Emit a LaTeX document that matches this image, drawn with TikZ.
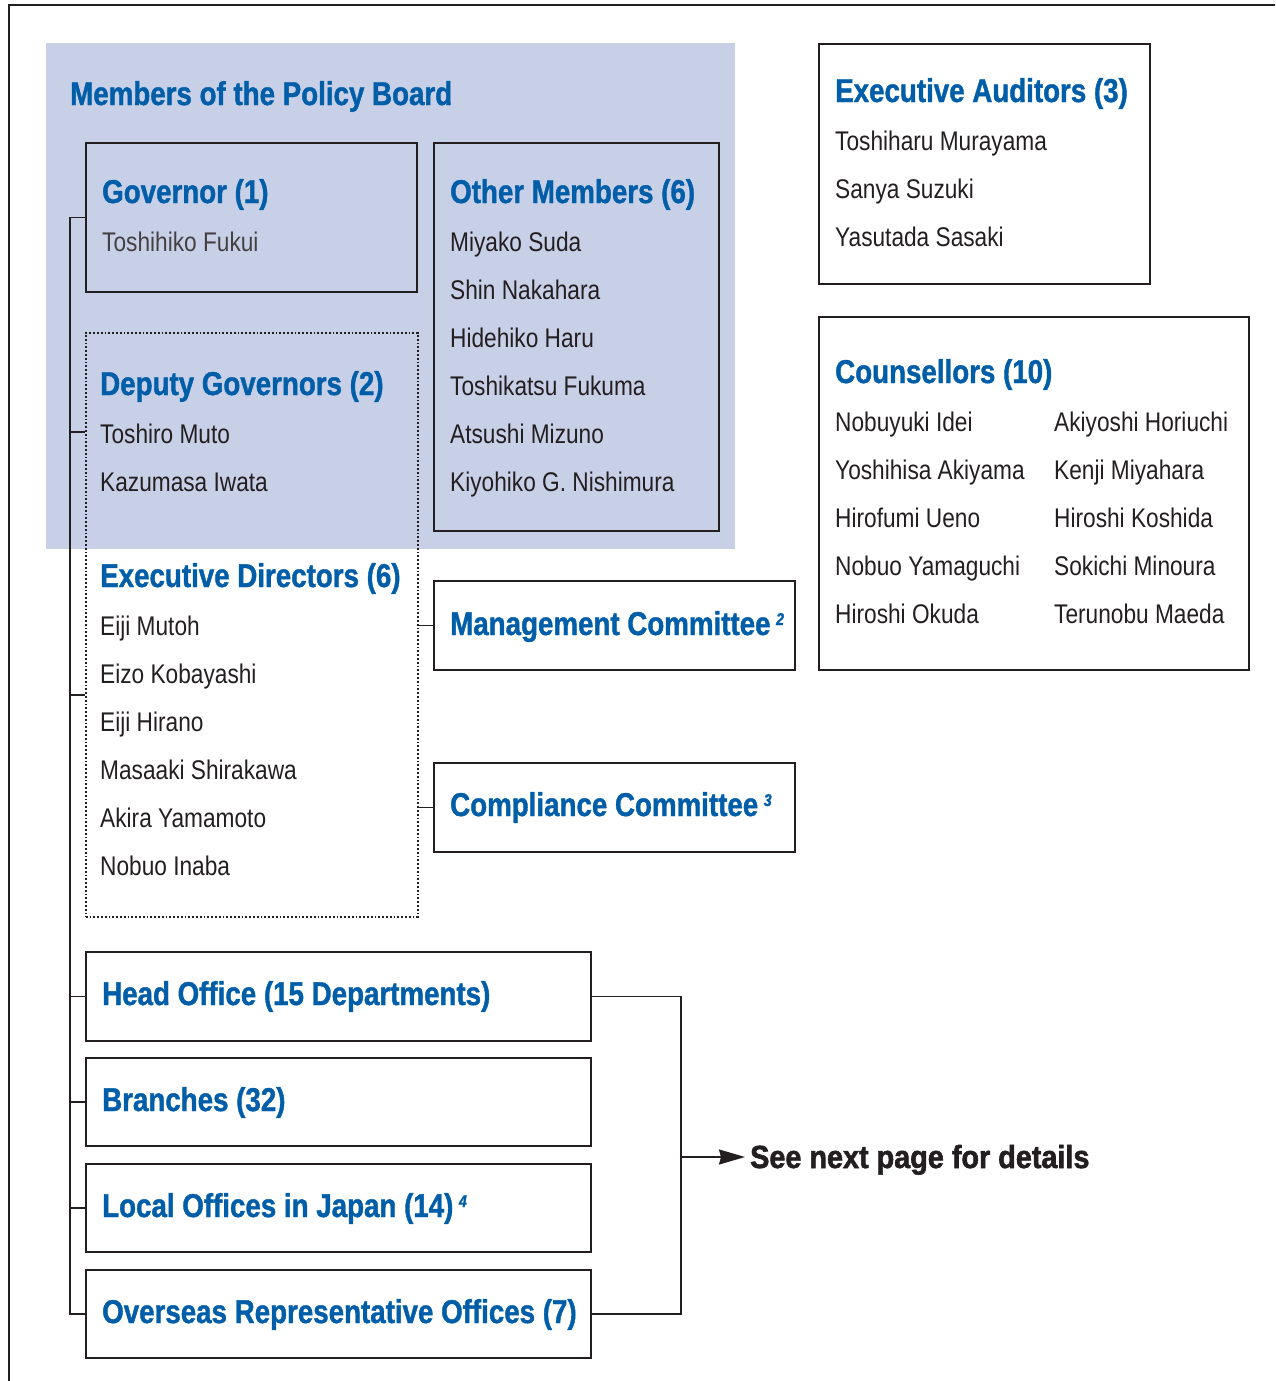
\documentclass[tikz,border=0pt]{standalone}
\usepackage{fontspec}
\setmainfont{Liberation Sans}[FakeStretch=0.84,BoldFeatures={FakeBold=1.2},BoldItalicFeatures={FakeBold=1.2}]
\newfontfamily\seefont{Liberation Sans Bold}[FakeStretch=0.9,FakeBold=1.8]
\usepackage{xcolor}
\usetikzlibrary{arrows.meta}
\definecolor{bojblue}{RGB}{0,94,168}
\definecolor{bojshade}{RGB}{200,208,232}
\definecolor{bojink}{RGB}{35,31,32}
\newcommand{\fnmark}[1]{\,\raisebox{10pt}{\fontsize{17}{17}\selectfont\itshape #1}}

\begin{document}
\begin{tikzpicture}[x=1pt,y=-1pt,
    box/.style={draw=bojink,line width=1.8pt,anchor=north west,inner sep=0pt},
    head/.style={anchor=base west,inner sep=0pt,text=bojblue,font=\bfseries\fontsize{33}{36}\selectfont},
    person/.style={anchor=base west,inner sep=0pt,text=bojink,font=\fontsize{27}{30}\selectfont},
    link/.style={draw=bojink,line width=1.8pt}]
      \useasboundingbox (0,0) rectangle (1275,1381);
      \fill[bojshade] (46,43) rectangle (735,549);
      \draw[link] (9,1381) -- (9,5) -- (1275,5);

      \node[box,minimum width=331pt,minimum height=149pt] (gov) at (85,142) {};
      \node[box,minimum width=285pt,minimum height=388pt] (oth) at (433,142) {};
      \node[box,dotted,line width=1.5pt,minimum width=332pt,minimum height=584pt] (dir) at (85,332) {};
      \node[box,minimum width=361pt,minimum height=89pt] (mgt) at (433,580) {};
      \node[box,minimum width=361pt,minimum height=89pt] (cmp) at (433,762) {};
      \node[box,minimum width=331pt,minimum height=240pt] (aud) at (818,43) {};
      \node[box,minimum width=430pt,minimum height=353pt] (cns) at (818,316) {};
      \node[box,minimum width=505pt,minimum height=89pt] (hqo) at (85,951) {};
      \node[box,minimum width=505pt,minimum height=88pt] (brn) at (85,1057) {};
      \node[box,minimum width=505pt,minimum height=88pt] (loc) at (85,1163) {};
      \node[box,minimum width=505pt,minimum height=88pt] (ovs) at (85,1269) {};

      \node[head] (board) at (70,105) {Members of the Policy Board};

      \node[head] (govhead) at (102,203) {Governor (1)};
      \node[person,text=bojink!85] (gov1) at (102,251) {Toshihiko Fukui};

      \node[head] (othhead) at (450,203) {Other Members (6)};
      \node[person] (oth1) at (450,251) {Miyako Suda};
      \node[person] (oth2) at (450,299) {Shin Nakahara};
      \node[person] (oth3) at (450,347) {Hidehiko Haru};
      \node[person] (oth4) at (450,395) {Toshikatsu Fukuma};
      \node[person] (oth5) at (450,443) {Atsushi Mizuno};
      \node[person] (oth6) at (450,491) {Kiyohiko G. Nishimura};

      \node[head] (dephead) at (100,395) {Deputy Governors (2)};
      \node[person] (dep1) at (100,443) {Toshiro Muto};
      \node[person] (dep2) at (100,491) {Kazumasa Iwata};

      \node[head] (exehead) at (100,587) {Executive Directors (6)};
      \node[person] (exe1) at (100,635) {Eiji Mutoh};
      \node[person] (exe2) at (100,683) {Eizo Kobayashi};
      \node[person] (exe3) at (100,731) {Eiji Hirano};
      \node[person] (exe4) at (100,779) {Masaaki Shirakawa};
      \node[person] (exe5) at (100,827) {Akira Yamamoto};
      \node[person] (exe6) at (100,875) {Nobuo Inaba};

      \node[head] (mgthead) at (450,635) {Management Committee\fnmark{2}};
      \node[head] (cmphead) at (450,816) {Compliance Committee\fnmark{3}};

      \node[head] (audhead) at (835,102) {Executive Auditors (3)};
      \node[person] (aud1) at (835,150) {Toshiharu Murayama};
      \node[person] (aud2) at (835,198) {Sanya Suzuki};
      \node[person] (aud3) at (835,246) {Yasutada Sasaki};

      \node[head] (cnshead) at (835,383) {Counsellors (10)};
      \node[person] (cns1) at (835,431) {Nobuyuki Idei};
      \node[person] (cns2) at (835,479) {Yoshihisa Akiyama};
      \node[person] (cns3) at (835,527) {Hirofumi Ueno};
      \node[person] (cns4) at (835,575) {Nobuo Yamaguchi};
      \node[person] (cns5) at (835,623) {Hiroshi Okuda};
      \node[person] (cns6) at (1054,431) {Akiyoshi Horiuchi};
      \node[person] (cns7) at (1054,479) {Kenji Miyahara};
      \node[person] (cns8) at (1054,527) {Hiroshi Koshida};
      \node[person] (cns9) at (1054,575) {Sokichi Minoura};
      \node[person] (cns10) at (1054,623) {Terunobu Maeda};

      \node[head] (hqohead) at (102,1005) {Head Office (15 Departments)};
      \node[head] (brnhead) at (102,1111) {Branches (32)};
      \node[head] (lochead) at (102,1217) {Local Offices in Japan (14)\fnmark{4}};
      \node[head] (ovshead) at (102,1323) {Overseas Representative Offices (7)};

      \node[anchor=base west,inner sep=0pt,text=bojink,font=\seefont\fontsize{32}{36}\selectfont] (see) at (750,1168) {See next page for details};

      \coordinate (spine) at (70,217);
      \coordinate (deptick) at (85,432);
      \coordinate (exetick) at (85,695);
      \coordinate (fork) at (681,1157);

      \draw[link] (gov.west) -- (gov.west -| spine) -- (ovs.west -| spine) -- (ovs.west);
      \draw[link] (deptick) -- (deptick -| spine);
      \draw[link] (exetick) -- (exetick -| spine);
      \draw[link] (hqo.west) -- (hqo.west -| spine);
      \draw[link] (brn.west) -- (brn.west -| spine);
      \draw[link] (loc.west) -- (loc.west -| spine);

      \draw[link] (mgt.west) -- (mgt.west -| dir.east);
      \draw[link] (cmp.west) -- (cmp.west -| dir.east);

      \draw[link] (hqo.east) -- (hqo.east -| fork) -- (ovs.east -| fork) -- (ovs.east);
      \draw[link,-{Stealth[length=26pt,width=15pt,inset=2pt]},shorten >=5pt] (fork) -- (fork -| see.west);
    \end{tikzpicture}
\end{document}
